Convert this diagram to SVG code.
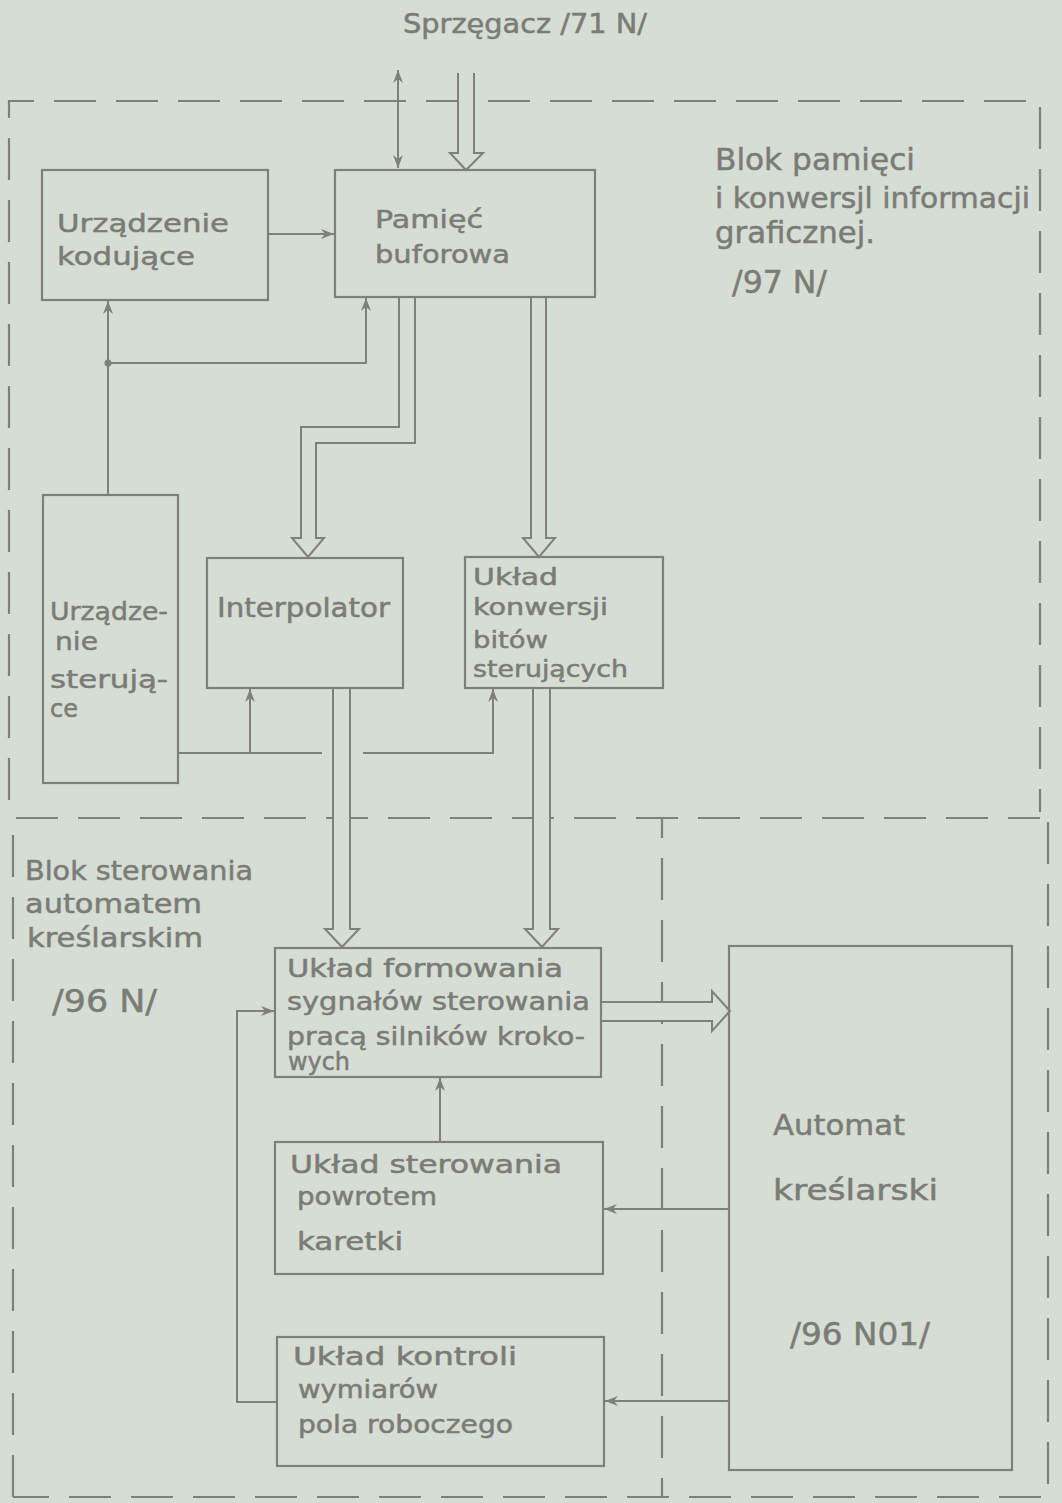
<svg xmlns="http://www.w3.org/2000/svg" width="1062" height="1503" viewBox="0 0 1062 1503">
<style>
.bg{fill:#d6ddd5}
.box{fill:none;stroke:#7f807a;stroke-width:2.2}
.ln{fill:none;stroke:#7f807a;stroke-width:2}
.dash{fill:none;stroke:#7f807a;stroke-width:2.2;stroke-dasharray:42 20}
.hol{fill:#d6ddd5;stroke:#7f807a;stroke-width:2;stroke-linejoin:miter}
text{font-family:"DejaVu Sans","Liberation Sans",sans-serif;fill:#7b7c75;stroke:#7b7c75;stroke-width:0.5}
</style>
<defs>
<marker id="ah" markerUnits="userSpaceOnUse" markerWidth="16" markerHeight="12" refX="13" refY="5" orient="auto-start-reverse">
<path d="M0,0 L13,5 L0,10 L4,5 z" fill="#7f807a"/>
</marker>
</defs>
<rect class="bg" x="0" y="0" width="1062" height="1503"/>

<g id="borders">
<path class="dash" d="M9 800 L9 101 L1040 101 L1040 812"/>
<path class="dash" d="M13 1497 L13 818 L1040 818"/>
<path class="dash" d="M1048 822 L1048 1497 L13 1497"/>
<path class="dash" d="M640 818 L662 818 L662 1497"/>
</g>

<g id="label-top">
<text x="403" y="33" font-size="26" textLength="244" lengthAdjust="spacingAndGlyphs">Sprzęgacz /71 N/</text>
</g>
<g id="label-block1">
<text x="715" y="170" font-size="30" textLength="200" lengthAdjust="spacingAndGlyphs">Blok pamięci</text>
<text x="715" y="208" font-size="28" textLength="315" lengthAdjust="spacingAndGlyphs">i konwersjl informacji</text>
<text x="715" y="243" font-size="30" textLength="160" lengthAdjust="spacingAndGlyphs">graficznej.</text>
<text x="732" y="293" font-size="32" textLength="95" lengthAdjust="spacingAndGlyphs">/97 N/</text>
</g>
<g id="label-block2">
<text x="25" y="880" font-size="26" textLength="228" lengthAdjust="spacingAndGlyphs">Blok sterowania</text>
<text x="25" y="913" font-size="26" textLength="177" lengthAdjust="spacingAndGlyphs">automatem</text>
<text x="27" y="947" font-size="26" textLength="176" lengthAdjust="spacingAndGlyphs">kreślarskim</text>
<text x="52" y="1012" font-size="32" textLength="105" lengthAdjust="spacingAndGlyphs">/96 N/</text>
</g>

<g id="connectors">
<line class="ln" x1="398" y1="70" x2="398" y2="168" marker-start="url(#ah)" marker-end="url(#ah)"/>
<path class="hol" d="M458 73 V153 H450 L466 170 L483 153 H474 V73"/>
<line class="ln" x1="268" y1="234" x2="334" y2="234" marker-end="url(#ah)"/>
<line class="ln" x1="108" y1="495" x2="108" y2="301" marker-end="url(#ah)"/>
<path class="ln" d="M108 363 H366 V298" marker-end="url(#ah)"/>
<circle cx="108" cy="363" r="3.5" fill="#7f807a"/>
<path class="hol" d="M399 298 V427 H301 V538 H292 L308 557 L324 538 H316 V443 H415 V298"/>
<path class="hol" d="M531 298 V538 H523 L539 557 L555 538 H546 V298"/>
<line class="ln" x1="178" y1="753" x2="322" y2="753"/>
<line class="ln" x1="250" y1="753" x2="250" y2="689" marker-end="url(#ah)"/>
<path class="ln" d="M363 753 H493 V689" marker-end="url(#ah)"/>
<path class="hol" d="M333 688 V929 H325 L342 947 L359 929 H350 V688"/>
<path class="hol" d="M533 688 V929 H525 L542 947 L558 929 H550 V688"/>
<path class="hol" d="M601 1002 H712 V991 L730 1011 L712 1031 V1021 H601"/>
<line class="ln" x1="440" y1="1142" x2="440" y2="1078" marker-end="url(#ah)"/>
<line class="ln" x1="729" y1="1209" x2="604" y2="1209" marker-end="url(#ah)"/>
<line class="ln" x1="729" y1="1401" x2="605" y2="1401" marker-end="url(#ah)"/>
<path class="ln" d="M277 1402 H237 V1011 H274" marker-end="url(#ah)"/>
</g>

<g id="n-kodujace">
<rect class="box" x="42" y="170" width="226" height="130"/>
<text x="57" y="232" font-size="25" textLength="172" lengthAdjust="spacingAndGlyphs">Urządzenie</text>
<text x="57" y="265" font-size="25" textLength="138" lengthAdjust="spacingAndGlyphs">kodujące</text>
</g>
<g id="n-pamiec">
<rect class="box" x="335" y="170" width="260" height="127"/>
<text x="375" y="228" font-size="25" textLength="108" lengthAdjust="spacingAndGlyphs">Pamięć</text>
<text x="375" y="263" font-size="25" textLength="135" lengthAdjust="spacingAndGlyphs">buforowa</text>
</g>
<g id="n-sterujace">
<rect class="box" x="43" y="495" width="135" height="288"/>
<text x="50" y="620" font-size="25" textLength="118" lengthAdjust="spacingAndGlyphs">Urządze-</text>
<text x="55" y="650" font-size="25" textLength="43" lengthAdjust="spacingAndGlyphs">nie</text>
<text x="50" y="688" font-size="25" textLength="118" lengthAdjust="spacingAndGlyphs">sterują-</text>
<text x="50" y="717" font-size="25" textLength="28" lengthAdjust="spacingAndGlyphs">ce</text>
</g>
<g id="n-interpolator">
<rect class="box" x="207" y="558" width="196" height="130"/>
<text x="217" y="617" font-size="27" textLength="173" lengthAdjust="spacingAndGlyphs">Interpolator</text>
</g>
<g id="n-konwersji">
<rect class="box" x="465" y="557" width="198" height="131"/>
<text x="473" y="585" font-size="23" textLength="85" lengthAdjust="spacingAndGlyphs">Układ</text>
<text x="473" y="615" font-size="23" textLength="135" lengthAdjust="spacingAndGlyphs">konwersji</text>
<text x="473" y="648" font-size="23" textLength="75" lengthAdjust="spacingAndGlyphs">bitów</text>
<text x="473" y="677" font-size="23" textLength="155" lengthAdjust="spacingAndGlyphs">sterujących</text>
</g>
<g id="n-formowania">
<rect class="box" x="275" y="948" width="326" height="129"/>
<text x="287" y="977" font-size="24" textLength="276" lengthAdjust="spacingAndGlyphs">Układ formowania</text>
<text x="287" y="1010" font-size="24" textLength="303" lengthAdjust="spacingAndGlyphs">sygnałów sterowania</text>
<text x="287" y="1045" font-size="24" textLength="298" lengthAdjust="spacingAndGlyphs">pracą silników kroko-</text>
<text x="288" y="1070" font-size="24" textLength="62" lengthAdjust="spacingAndGlyphs">wych</text>
</g>
<g id="n-powrotem">
<rect class="box" x="275" y="1142" width="328" height="132"/>
<text x="290" y="1173" font-size="24" textLength="272" lengthAdjust="spacingAndGlyphs">Układ sterowania</text>
<text x="297" y="1205" font-size="24" textLength="140" lengthAdjust="spacingAndGlyphs">powrotem</text>
<text x="297" y="1250" font-size="24" textLength="106" lengthAdjust="spacingAndGlyphs">karetki</text>
</g>
<g id="n-kontroli">
<rect class="box" x="277" y="1337" width="327" height="129"/>
<text x="293" y="1365" font-size="24" textLength="224" lengthAdjust="spacingAndGlyphs">Układ kontroli</text>
<text x="298" y="1398" font-size="24" textLength="140" lengthAdjust="spacingAndGlyphs">wymiarów</text>
<text x="298" y="1433" font-size="24" textLength="215" lengthAdjust="spacingAndGlyphs">pola roboczego</text>
</g>
<g id="n-automat">
<rect class="box" x="729" y="946" width="283" height="524"/>
<text x="773" y="1135" font-size="28" textLength="132" lengthAdjust="spacingAndGlyphs">Automat</text>
<text x="773" y="1200" font-size="28" textLength="165" lengthAdjust="spacingAndGlyphs">kreślarski</text>
<text x="790" y="1345" font-size="32" textLength="140" lengthAdjust="spacingAndGlyphs">/96 N01/</text>
</g>
</svg>
